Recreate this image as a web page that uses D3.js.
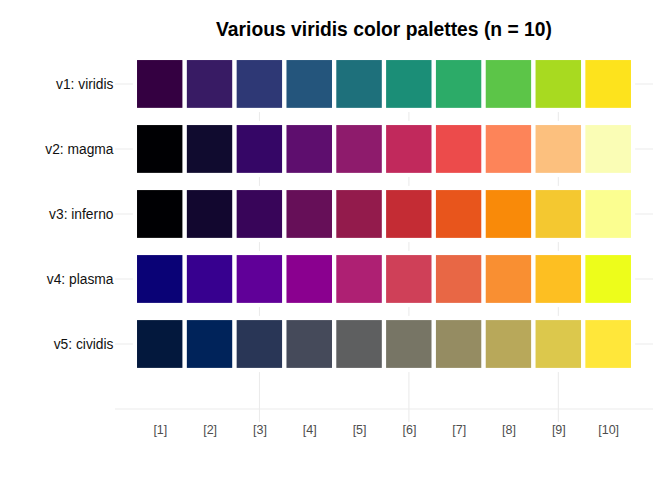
<!DOCTYPE html>
<html>
<head>
<meta charset="utf-8">
<script src="https://cdn.jsdelivr.net/npm/d3@7"></script>
<style>
  html, body { margin: 0; padding: 0; background: #fff; }
  svg { display: block; font-family: "Liberation Sans", Arial, Helvetica, sans-serif; }
</style>
</head>
<body>
<svg id="chart" width="672" height="480"></svg>
<script>
// ---- data ----
const title = "Various viridis color palettes (n = 10)";
const paletteNames = ["v1: viridis", "v2: magma", "v3: inferno", "v4: plasma", "v5: cividis"];
const positionLabels = ["[1]", "[2]", "[3]", "[4]", "[5]", "[6]", "[7]", "[8]", "[9]", "[10]"];
const viridisColors = ["#340041", "#381B64", "#2E3875", "#24557C", "#1E707B", "#1B8E77", "#2CAB68", "#5CC548", "#A8DA20", "#FDE31D"];
const magmaColors   = ["#000003", "#100B2F", "#350666", "#5E0E6E", "#8E1B6C", "#C1295C", "#EC4B4B", "#FD8459", "#FCC07E", "#FAFDB5"];
const infernoColors = ["#000003", "#12072F", "#380559", "#660F58", "#931B4C", "#C42C34", "#E8551C", "#F98A09", "#F4C830", "#FBFE90"];
const plasmaColors  = ["#0A0276", "#37008F", "#600098", "#8A008F", "#AE2073", "#CF4058", "#E86745", "#F98F32", "#FDBF22", "#EDFD1B"];
const cividisColors = ["#03183D", "#00235A", "#293656", "#454A5A", "#5E5F60", "#777565", "#958C62", "#B8A85A", "#DCC84C", "#FFE73A"];
const xGridBreaks = [3, 6, 9];
const yGridBreaks = [0, 1, 2, 3, 4, 5];

// ---- build tile table ----
const paletteColors = [viridisColors, magmaColors, infernoColors, plasmaColors, cividisColors];
const tiles = [];
paletteColors.forEach((cols, p) => {
  cols.forEach((c, i) => tiles.push({ row: paletteNames.length - p, pos: i + 1, color: c }));
});

// ---- layout ----
const svg = d3.select("#chart");
const panel = { left: 115, right: 653, top: 56, bottom: 422 };

const x = d3.scaleLinear().domain([0.1, 10.9]).range([panel.left, panel.right]);
const y = d3.scaleLinear().domain([-0.2, 5.43]).range([panel.bottom, panel.top]);

const gridColor = "#EBEBEB";
const grid = svg.append("g");
grid.selectAll("line.h").data(yGridBreaks).enter().append("line")
  .attr("x1", panel.left).attr("x2", panel.right)
  .attr("y1", d => y(d)).attr("y2", d => y(d))
  .attr("stroke", gridColor).attr("stroke-width", 1.1);
grid.selectAll("line.v").data(xGridBreaks).enter().append("line")
  .attr("x1", d => x(d)).attr("x2", d => x(d))
  .attr("y1", panel.top).attr("y2", panel.bottom)
  .attr("stroke", gridColor).attr("stroke-width", 1.1);

// tiles: width 1, height 0.8, white border
const tileW = x(1) - x(0);
const tileH = (y(0) - y(0.8));
svg.append("g").selectAll("rect").data(tiles).enter().append("rect")
  .attr("x", d => x(d.pos - 0.5))
  .attr("y", d => y(d.row + 0.4))
  .attr("width", tileW)
  .attr("height", tileH)
  .attr("fill", d => d.color)
  .attr("stroke", "#FFFFFF")
  .attr("stroke-width", 4.2);

// axes
const yAxis = d3.axisLeft(y)
  .tickValues([5, 4, 3, 2, 1])
  .tickFormat(v => paletteNames[paletteNames.length - v])
  .tickSize(0).tickPadding(1.5);
const gy = svg.append("g").attr("transform", `translate(${panel.left},0)`).call(yAxis);
gy.select(".domain").remove();
gy.selectAll("text").attr("font-size", "13.8px").attr("fill", "#111111")
  .attr("font-family", "'Liberation Sans', Arial, sans-serif");

const xAxis = d3.axisBottom(x)
  .tickValues(d3.range(1, positionLabels.length + 1))
  .tickFormat(v => positionLabels[v - 1])
  .tickSize(0).tickPadding(3);
const gx = svg.append("g").attr("transform", `translate(0,${panel.bottom})`).call(xAxis);
gx.select(".domain").remove();
gx.selectAll("text").attr("font-size", "12.5px").attr("fill", "#4D4D4D")
  .attr("font-family", "'Liberation Sans', Arial, sans-serif");

// title
svg.append("text")
  .attr("x", (panel.left + panel.right) / 2)
  .attr("y", 36)
  .attr("text-anchor", "middle")
  .attr("font-size", "19.3px")
  .attr("font-weight", "bold")
  .attr("fill", "#000")
  .text(title);
</script>
</body>
</html>
